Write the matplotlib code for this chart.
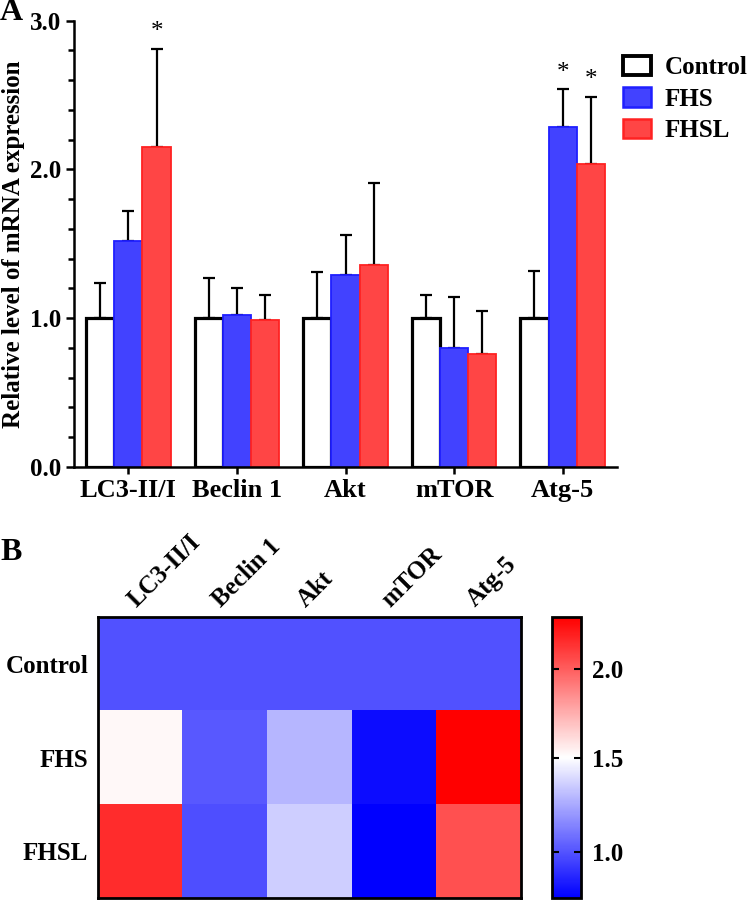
import numpy as np
import matplotlib
matplotlib.use('Agg')
import matplotlib.pyplot as plt
from matplotlib.colors import LinearSegmentedColormap, TwoSlopeNorm
from matplotlib.ticker import MultipleLocator
from matplotlib.patches import Patch

plt.rcParams['font.family'] = ['Liberation Serif', 'DejaVu Serif']
plt.rcParams['font.weight'] = 'bold'
plt.rcParams['axes.labelweight'] = 'bold'

# data
genes = ['LC3-II/I', 'Beclin 1', 'Akt', 'mTOR', 'Atg-5']
groups = ['Control', 'FHS', 'FHSL']
control_mean = [1.00, 1.00, 1.00, 1.00, 1.00]
control_err = [0.24, 0.27, 0.31, 0.155, 0.32]
fhs_mean = [1.52, 1.02, 1.29, 0.80, 2.285]
fhs_err = [0.20, 0.18, 0.27, 0.34, 0.255]
fhsl_mean = [2.15, 0.99, 1.36, 0.76, 2.04]
fhsl_err = [0.66, 0.165, 0.55, 0.29, 0.45]
# (group index, gene index) pairs marked significant
stars = [(2, 0), (1, 4), (2, 4)]

means = [control_mean, fhs_mean, fhsl_mean]
errs = [control_err, fhs_err, fhsl_err]
face_colors = ['white', '#4242ff', '#ff4545']
edge_colors = ['black', '#1f1fff', '#ff2222']
edge_widths = [2.3, 1.3, 1.3]

fig = plt.figure(figsize=(7.5, 9.01), dpi=100)

# ---- panel A: grouped bar chart ----
ax = fig.add_axes([0.0987, 0.4817, 0.724, 0.4953])
x = np.arange(len(genes))
w = 0.26
for i, g in enumerate(groups):
    pos = x + (i - 1) * w
    ax.bar(pos, means[i], width=w, color=face_colors[i], edgecolor=edge_colors[i],
           linewidth=edge_widths[i], label=g, zorder=2)
    ax.errorbar(pos, means[i], yerr=[np.zeros(len(genes)), errs[i]], fmt='none',
                ecolor='black', elinewidth=1.6, capsize=4.5, capthick=1.6, zorder=1)
for gi, ki in stars:
    top = means[gi][ki] + errs[gi][ki]
    ax.annotate('*', (x[ki] + (gi - 1) * w, top), xytext=(0, 4), textcoords='offset points',
                ha='center', va='bottom', fontsize=18, fontweight='normal')

ax.set_xlim(-0.5, 4.5)
ax.set_ylim(0, 3.0)
ax.set_xticks(x)
ax.set_xticklabels(genes, fontsize=19)
ax.set_yticks([0, 1, 2, 3])
ax.set_yticklabels(['0.0', '1.0', '2.0', '3.0'], fontsize=18)
ax.yaxis.set_minor_locator(MultipleLocator(0.2))
ax.tick_params(axis='y', which='major', length=6, width=1.8)
ax.tick_params(axis='y', which='minor', length=4, width=1.8)
ax.tick_params(axis='x', length=5, width=1.8)
for s in ['top', 'right']:
    ax.spines[s].set_visible(False)
for s in ['left', 'bottom']:
    ax.spines[s].set_linewidth(1.8)
ax.set_ylabel('Relative level of mRNA expression', fontsize=18, labelpad=3)

handles = [Patch(facecolor=face_colors[i], edgecolor=edge_colors[i],
                 linewidth=edge_widths[i] + 0.5) for i in range(3)]
ax.legend(handles, groups, loc='upper left', bbox_to_anchor=(0.831, 0.9376),
          bbox_transform=fig.transFigure, frameon=False, fontsize=18,
          handlelength=1.1, handleheight=0.8, handletextpad=0.55,
          labelspacing=0.32, borderpad=0, borderaxespad=0)
fig.text(0.0, 0.9856, 'A', fontsize=23, fontweight='bold', va='center')

# ---- panel B: heatmap of the means ----
heat = np.array(means)
cmap = LinearSegmentedColormap.from_list('bwr2', ['#0000ff', '#ffffff', '#ff0000'])
norm = TwoSlopeNorm(vmin=min(heat.min(), 0.76), vcenter=1.5, vmax=2.29)
hx = fig.add_axes([0.1307, 0.0033, 0.5633, 0.3119])
im = hx.imshow(heat, aspect='auto', cmap=cmap, norm=norm)
hx.set_xticks([])
hx.set_yticks(range(len(groups)))
hx.set_yticklabels(groups, fontsize=18)
hx.tick_params(axis='y', length=0, pad=7)
for s in hx.spines.values():
    s.set_linewidth(2)
for j, g in enumerate(genes):
    hx.text(j, -0.56, g, rotation=45, rotation_mode='anchor', ha='left', va='bottom',
            fontsize=18)
fig.text(0.0, 0.387, 'B', fontsize=23, fontweight='bold', va='center')

cx = fig.add_axes([0.736, 0.0033, 0.0387, 0.3119])
cb = fig.colorbar(im, cax=cx)
cb.set_ticks([1.0, 1.5, 2.0])
cb.set_ticklabels(['1.0', '1.5', '2.0'])
cx.tick_params(direction='in', left=True, right=True, length=5, width=1.5, labelsize=18, pad=8)
cb.outline.set_linewidth(2)

fig.savefig('out.png', dpi=100)
